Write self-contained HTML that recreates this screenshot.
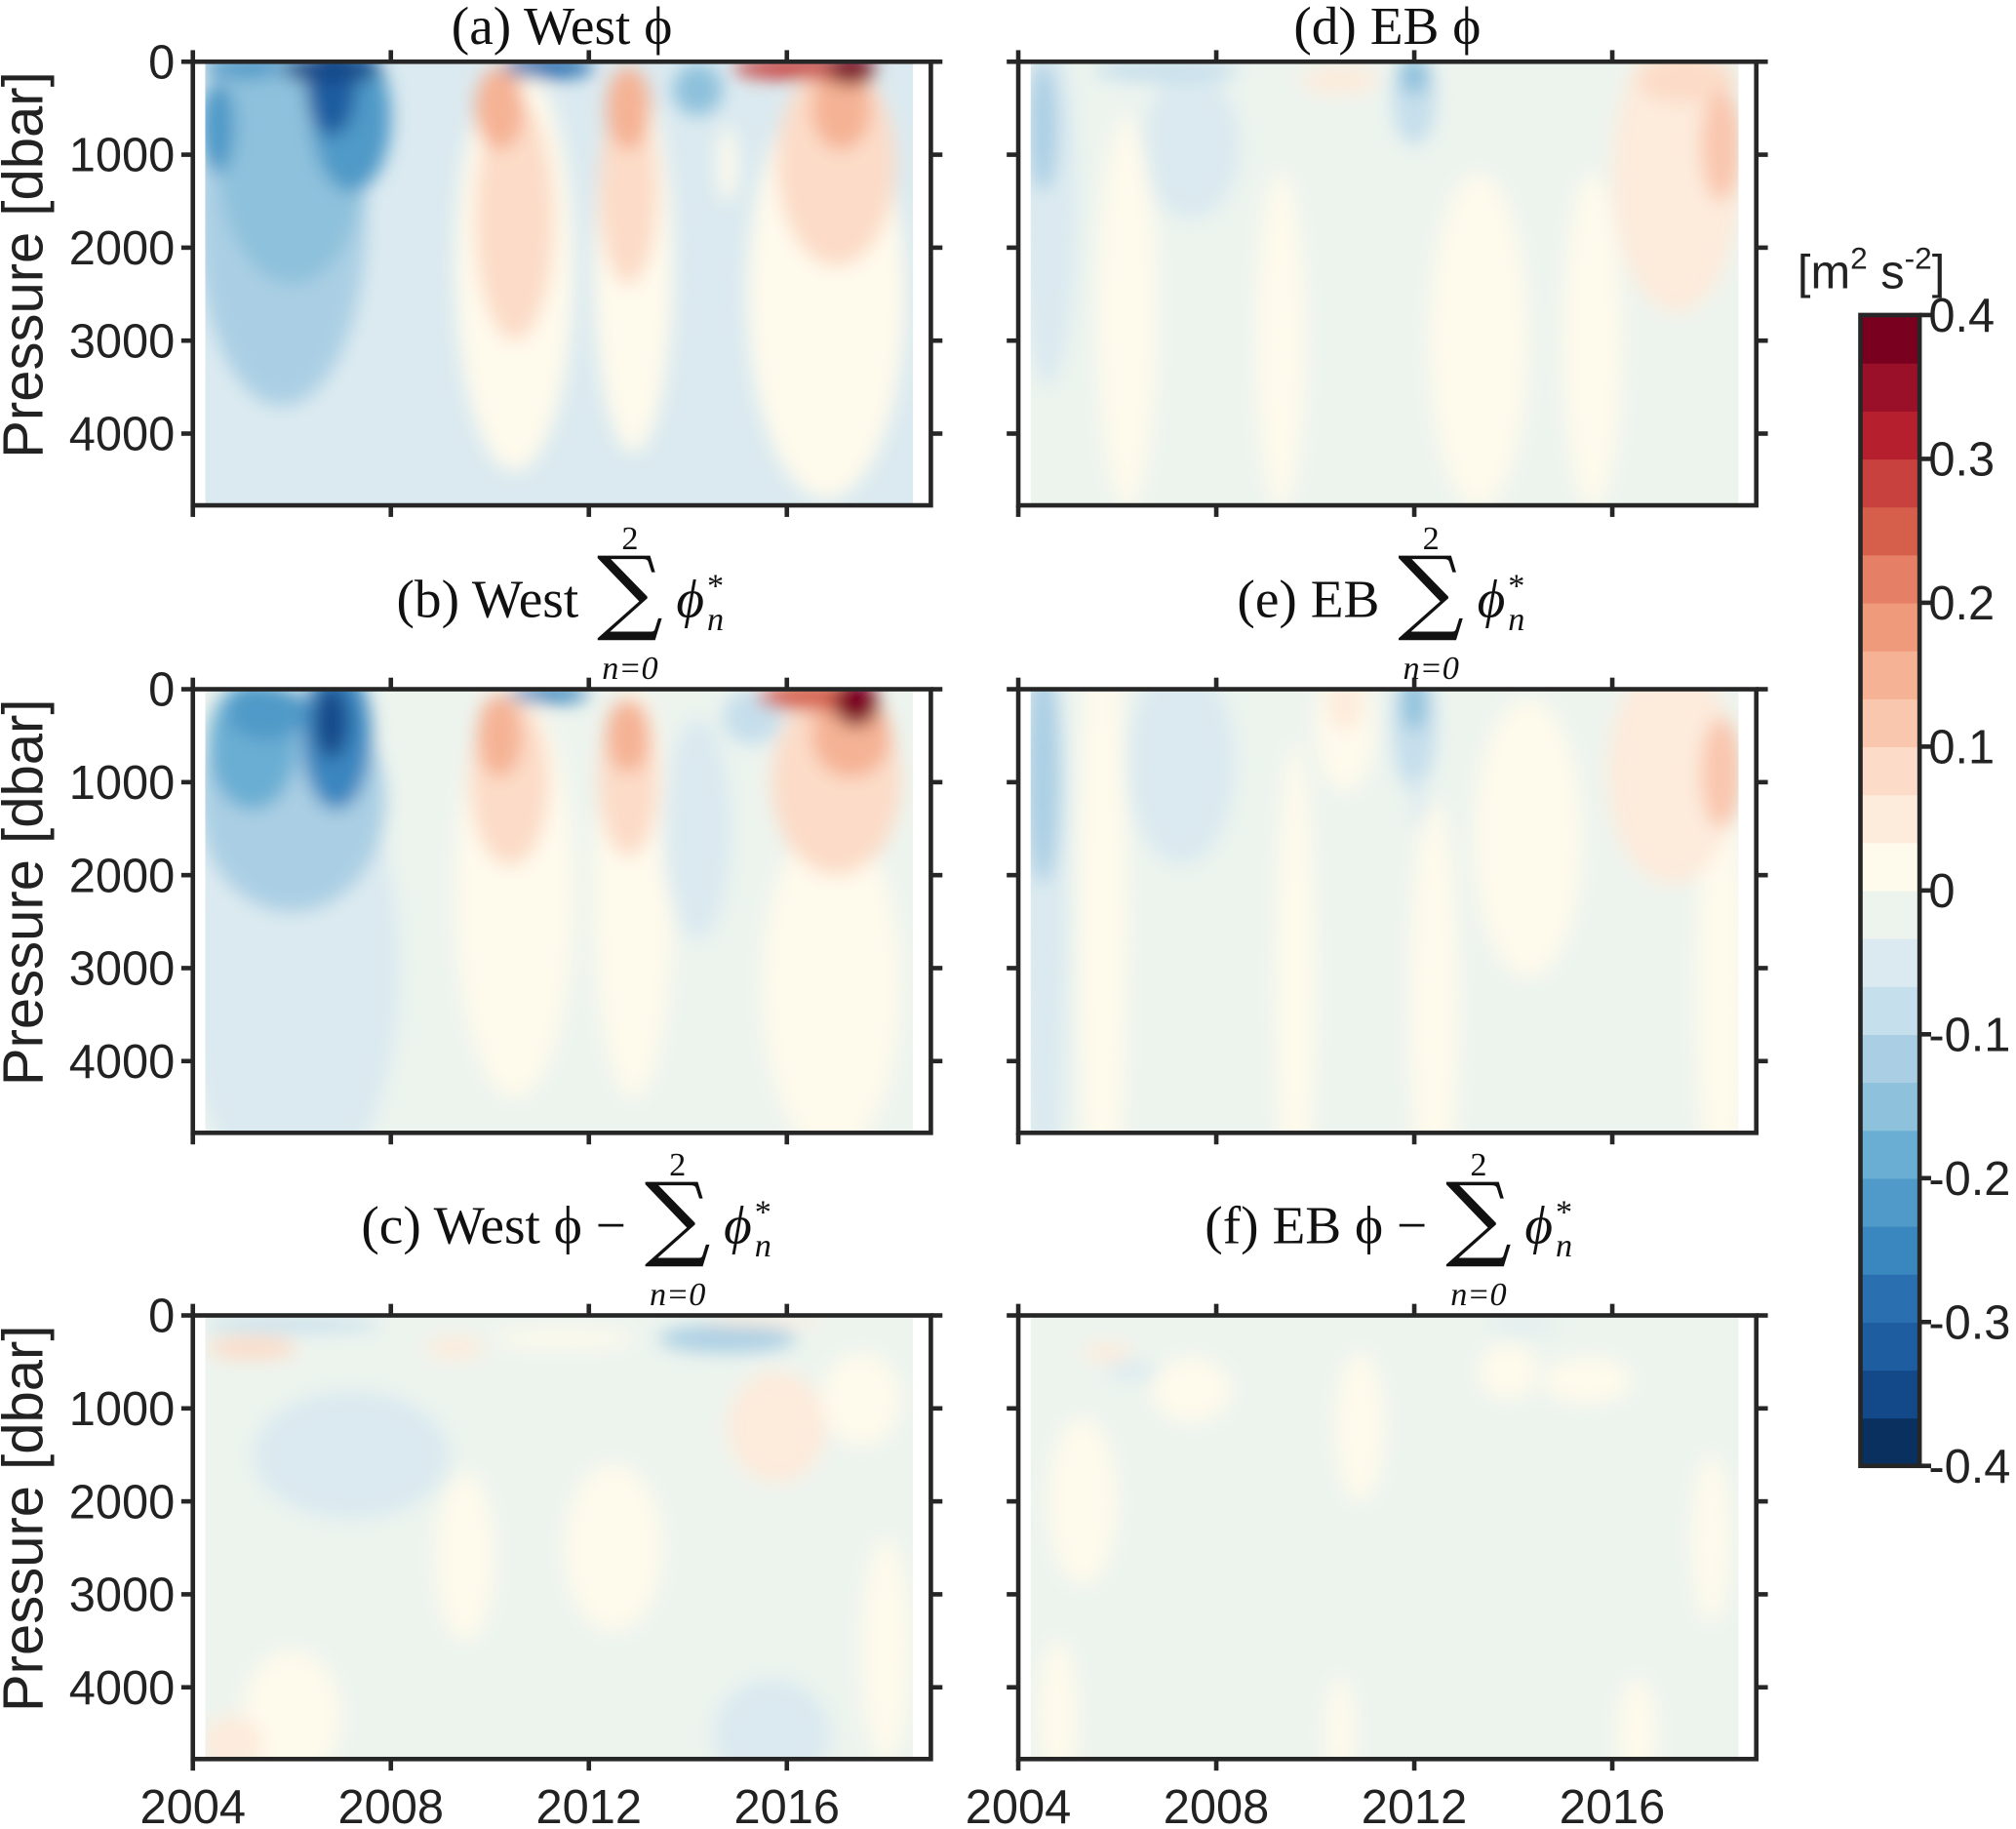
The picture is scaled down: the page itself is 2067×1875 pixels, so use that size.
<!DOCTYPE html>
<html><head><meta charset="utf-8">
<style>
html,body{margin:0;padding:0;background:#fff;}
svg{display:block;}
.tk{font-family:"Liberation Sans",sans-serif;font-size:37px;fill:#222;}
.ti{font-family:"Liberation Serif",serif;font-size:42px;fill:#111;}
</style></head>
<body>
<svg id="fig" width="2067" height="1875" viewBox="0 0 1568 1422.4" preserveAspectRatio="none" xmlns="http://www.w3.org/2000/svg">
<defs>
<filter id="blur" x="-50%" y="-50%" width="200%" height="200%"><feGaussianBlur stdDeviation="7"/></filter>
</defs>
<g id="panels"></g>
<g id="cbar"></g>
</svg>
<script>
// Data: blobs [yearCenter, pressureCenter(dbar), halfWidth(years), halfDepth(dbar), value]
const xTicks=[2004,2008,2012,2016];
const yTicks=[0,1000,2000,3000,4000];
const cbTicks=[0.4,0.3,0.2,0.1,0,-0.1,-0.2,-0.3,-0.4];
const bgA=-0.05, bgB=-0.02, bgC=-0.02, bgD=-0.02, bgE=-0.02, bgF=-0.02;
const blobsA=[
 [2005.8,1700,1.7,2000,-0.1],[2006.0,1000,1.5,1400,-0.15],[2004.5,700,0.35,500,-0.22],
 [2007.2,600,0.8,800,-0.2],[2006.8,300,0.5,500,-0.3],[2006.8,80,1.0,150,-0.36],[2005,60,0.8,120,-0.2],
 [2010.5,2200,1.2,2200,0.02],[2010.5,1700,0.8,1300,0.07],[2010.2,500,0.5,450,0.16],
 [2011.2,60,0.9,120,-0.28],
 [2012.9,2200,0.8,2000,0.02],[2012.8,1400,0.6,1000,0.07],[2012.8,500,0.45,450,0.16],
 [2014.2,300,0.5,280,-0.14],[2014.8,1100,0.2,400,0.02],
 [2016.8,2500,1.6,2200,0.02],[2017,1100,1.2,1100,0.07],[2017.1,500,0.6,450,0.16],
 [2016.3,70,1.4,120,0.28],[2017.3,90,0.5,160,0.38]
];
const blobsB=[
 [2006.0,3000,2.2,2500,-0.05],[2006.0,1200,1.9,1200,-0.1],[2005.2,600,0.9,700,-0.18],
 [2006.9,500,0.7,800,-0.24],[2006.8,350,0.35,400,-0.36],[2005.5,250,0.8,300,-0.2],
 [2010.5,2200,1.2,2200,0.02],[2010.4,1000,0.8,900,0.07],[2010.2,500,0.45,450,0.16],
 [2011.2,50,0.8,100,-0.25],
 [2012.9,2200,0.8,2200,0.02],[2012.8,1000,0.6,800,0.07],[2012.8,500,0.45,400,0.16],
 [2014.2,1500,0.7,1200,-0.05],[2015.3,300,0.6,300,-0.07],
 [2016.9,3200,1.4,1800,0.02],[2017,1000,1.3,1000,0.07],[2017.3,500,0.8,450,0.16],
 [2016.6,80,1.2,150,0.26],[2017.4,150,0.45,250,0.38]
];
const blobsC=[
 [2006,100,1.8,80,-0.07],[2005.2,350,0.9,120,0.07],[2009.3,350,0.6,120,0.06],
 [2014.8,250,1.4,150,-0.1],[2015.5,60,1.2,60,0.06],[2011.5,250,1.4,100,0.03],
 [2007.2,1500,2.0,700,-0.05],[2015.8,1200,1.0,600,0.05],[2017.5,900,0.8,500,0.03],
 [2006,4300,1.0,700,0.02],[2015.7,4500,1.2,600,-0.05],[2009.5,2600,0.6,900,0.02],[2012.5,2500,1.0,900,0.02],[2018,3600,0.5,1200,0.02],[2004.8,4600,0.6,300,0.05]
];
const blobsD=[
 [2004.6,1500,0.6,2000,-0.05],[2004.5,700,0.3,700,-0.12],
 [2007.5,900,1.0,800,-0.05],[2006.2,2700,0.6,2100,0.02],[2009.3,3000,0.5,1800,0.02],
 [2007,100,1.5,120,-0.07],[2012,400,0.45,500,-0.09],[2012,150,0.3,200,-0.15],
 [2013.3,3000,1.0,1800,0.02],[2010.5,200,0.8,150,0.05],[2015.6,3000,0.6,1800,0.02],
 [2017.3,1200,1.3,1500,0.06],[2017.5,200,1.0,250,0.08],[2018.2,900,0.4,600,0.1]
];
const blobsE=[
 [2004.5,2400,0.5,3500,-0.05],[2004.5,900,0.35,1200,-0.12],[2005.7,2500,0.5,3500,0.02],
 [2007.3,800,1.1,1100,-0.05],[2009.6,3200,0.4,2600,0.02],[2010.6,400,0.6,700,0.02],[2010.6,150,0.35,300,0.06],
 [2012,400,0.45,700,-0.08],[2012,150,0.25,300,-0.15],[2012.1,1200,0.15,300,-0.05],
 [2012.4,3400,0.5,2200,0.02],[2014.3,1600,1.1,1500,0.02],[2018.2,3300,0.5,2400,0.02],
 [2017.2,900,1.3,1200,0.06],[2018.2,900,0.4,600,0.1]
];
const blobsF=[
 [2005.3,2000,0.7,900,0.02],[2007.5,800,0.8,350,0.02],[2010.9,1200,0.5,800,0.02],[2013.9,600,0.6,300,0.02],
 [2015.5,700,0.9,250,0.02],[2018,2400,0.4,900,0.02],[2010.5,4500,0.3,600,0.02],[2016.5,4500,0.4,600,0.02],
 [2004.8,4300,0.4,800,0.02],[2005.8,400,0.5,100,0.05],[2006.3,600,0.5,100,-0.05],[2014.2,100,0.7,60,-0.05]
];
const titlesMain=["(a) West \u03d5","(b) West","(c) West \u03d5 \u2212","(d) EB \u03d5","(e) EB","(f) EB \u03d5 \u2212"];
const sumX=[0,490,527,0,1113,1150];

const bandColorsPos=["#fefaec","#fdebdc","#fcdcc8","#f9c6ae","#f5b294","#ef9a7a","#e57f65","#d65f4c","#c8413e","#b51f2e","#9a1028","#7a0020"];
const bandColorsNeg=["#edf4ee","#dbeaf0","#c6dfec","#aacfe4","#8ec1dc","#6aaed3","#4f9ac8","#3a86bf","#2a70b1","#1d5da0","#134989","#0a3060"];
const step=0.4/12;
function color(v){
  let i=Math.min(11,Math.floor(Math.abs(v)/step));
  return v>=0?bandColorsPos[i]:bandColorsNeg[i];
}
const NS="http://www.w3.org/2000/svg";
function el(tag,attrs,parent){const e=document.createElementNS(NS,tag);for(const k in attrs)e.setAttribute(k,attrs[k]);if(parent)parent.appendChild(e);return e;}

const PX_YR=38.5, PX_DB=0.0723, AXW=574, AXH=345;
const cols=[150,792], rows=[48,536,1023];
const panelDefs=[
 {bg:bgA,blobs:blobsA,c:0,r:0,name:"panel-a-west-phi"},
 {bg:bgB,blobs:blobsB,c:0,r:1,name:"panel-b-west-sum"},
 {bg:bgC,blobs:blobsC,c:0,r:2,name:"panel-c-west-residual"},
 {bg:bgD,blobs:blobsD,c:1,r:0,name:"panel-d-eb-phi"},
 {bg:bgE,blobs:blobsE,c:1,r:1,name:"panel-e-eb-sum"},
 {bg:bgF,blobs:blobsF,c:1,r:2,name:"panel-f-eb-residual"}
];
const root=document.getElementById('panels');
panelDefs.forEach((pd,idx)=>{
  const x0=cols[pd.c], y0=rows[pd.r];
  const xs=t=>x0+(t-2004)*PX_YR, ys=p=>y0+p*PX_DB;
  const g=el('g',{},root);
  
  
  const cid='clip'+idx;
  const cp=el('clipPath',{id:cid},g);
  const dx0=xs(2004.25), dx1=xs(2018.55);
  el('rect',{x:dx0,y:y0,width:dx1-dx0,height:AXH},cp);
  const fg=el('g',{'clip-path':'url(#'+cid+')'},g);
  const bgr=el('rect',{x:dx0,y:y0,width:dx1-dx0,height:AXH,fill:color(pd.bg)},fg);
  
  
  const bl=el('g',{filter:'url(#blur)'},fg);
  pd.blobs.forEach(b=>{
    const e=el('ellipse',{cx:xs(b[0]),cy:ys(b[1]),rx:b[2]*PX_YR,ry:b[3]*PX_DB,fill:color(b[4])},bl);
    
    
  });
  const ax=el('rect',{x:x0,y:y0,width:AXW,height:AXH,fill:'none',stroke:'#262626','stroke-width':3.5},g);
  
  
  xTicks.forEach(t=>{
    el('line',{x1:xs(t),x2:xs(t),y1:y0+AXH,y2:y0+AXH+9,stroke:'#262626','stroke-width':3.5},g);
    el('line',{x1:xs(t),x2:xs(t),y1:y0,y2:y0-9,stroke:'#262626','stroke-width':3.5},g);
    if(pd.r===2){
      const tl=el('text',{x:xs(t),y:y0+AXH+50,'text-anchor':'middle',class:'tk'},g);
      tl.textContent=t;
      
      
    }
  });
  yTicks.forEach(p=>{
    el('line',{x1:x0,x2:x0-9,y1:ys(p),y2:ys(p),stroke:'#262626','stroke-width':3.5},g);
    el('line',{x1:x0+AXW,x2:x0+AXW+9,y1:ys(p),y2:ys(p),stroke:'#262626','stroke-width':3.5},g);
    if(pd.c===0){
      const tl=el('text',{x:x0-14,y:ys(p)+13,'text-anchor':'end',class:'tk'},g);
      tl.textContent=p;
      
      
    }
  });
  if(pd.c===0){
    const yl=el('text',{x:0,y:0,'text-anchor':'middle',class:'tk',style:'font-size:44px',transform:`translate(33,${y0+158}) rotate(-90)`},g);
    yl.textContent='Pressure [dbar]';
    
    
  }
  const cx=x0+AXW/2;
  const tg=el('g',{},g);
  
  
  const ttl=titlesMain[idx];
  if(pd.r===0){
    el('text',{x:cx,y:y0-14,'text-anchor':'middle',class:'ti'},tg).textContent=ttl;
  } else {
    const by=y0-56;
    const sx=sumX[idx];
    el('text',{x:sx-40,y:by,'text-anchor':'end',class:'ti'},tg).textContent=ttl;
    el('text',{x:sx,y:by+4,'text-anchor':'middle',style:'font-family:"DejaVu Serif",serif;font-size:72px;fill:#111'},tg).textContent='\u2211';
    el('text',{x:sx,y:by-53,'text-anchor':'middle',class:'ti',style:'font-size:26px'},tg).textContent='2';
    el('text',{x:sx,y:by+48,'text-anchor':'middle',class:'ti',style:'font-size:26px;font-style:italic'},tg).textContent='n=0';
    el('text',{x:sx+36,y:by,class:'ti',style:'font-style:italic'},tg).textContent='\u03d5';
    el('text',{x:sx+60,y:by+10,class:'ti',style:'font-size:26px;font-style:italic'},tg).textContent='n';
    el('text',{x:sx+60,y:by-16,class:'ti',style:'font-size:26px'},tg).textContent='*';
  }
});
const cb=document.getElementById('cbar');


const cbX=1447, cbW=46, cbTop=245, cbBot=1140;
const cys=v=>cbTop+(0.4-v)/0.8*(cbBot-cbTop);
for(let i=0;i<24;i++){
  const v0=-0.4+i*step;
  const r=el('rect',{x:cbX,y:cys(v0+step),width:cbW,height:cys(v0)-cys(v0+step)+0.5,fill:color(v0+step/2)},cb);
  
  
}
el('rect',{x:cbX,y:cbTop,width:cbW,height:cbBot-cbTop,fill:'none',stroke:'#262626','stroke-width':3.5},cb);
cbTicks.forEach(v=>{
  el('line',{x1:cbX+cbW,x2:cbX+cbW+9,y1:cys(v),y2:cys(v),stroke:'#262626','stroke-width':3.5},cb);
  const t=el('text',{x:cbX+cbW+7,y:cys(v)+13,class:'tk'},cb);
  t.textContent=(v===0?'0':String(v));
  
  
});
const ul=el('text',{x:1398,y:224,class:'tk'},cb);
ul.innerHTML='[m<tspan dy="-15" font-size="24">2</tspan><tspan dy="15"> s</tspan><tspan dy="-15" font-size="24">-2</tspan><tspan dy="15">]</tspan>';


</script>
</body></html>
